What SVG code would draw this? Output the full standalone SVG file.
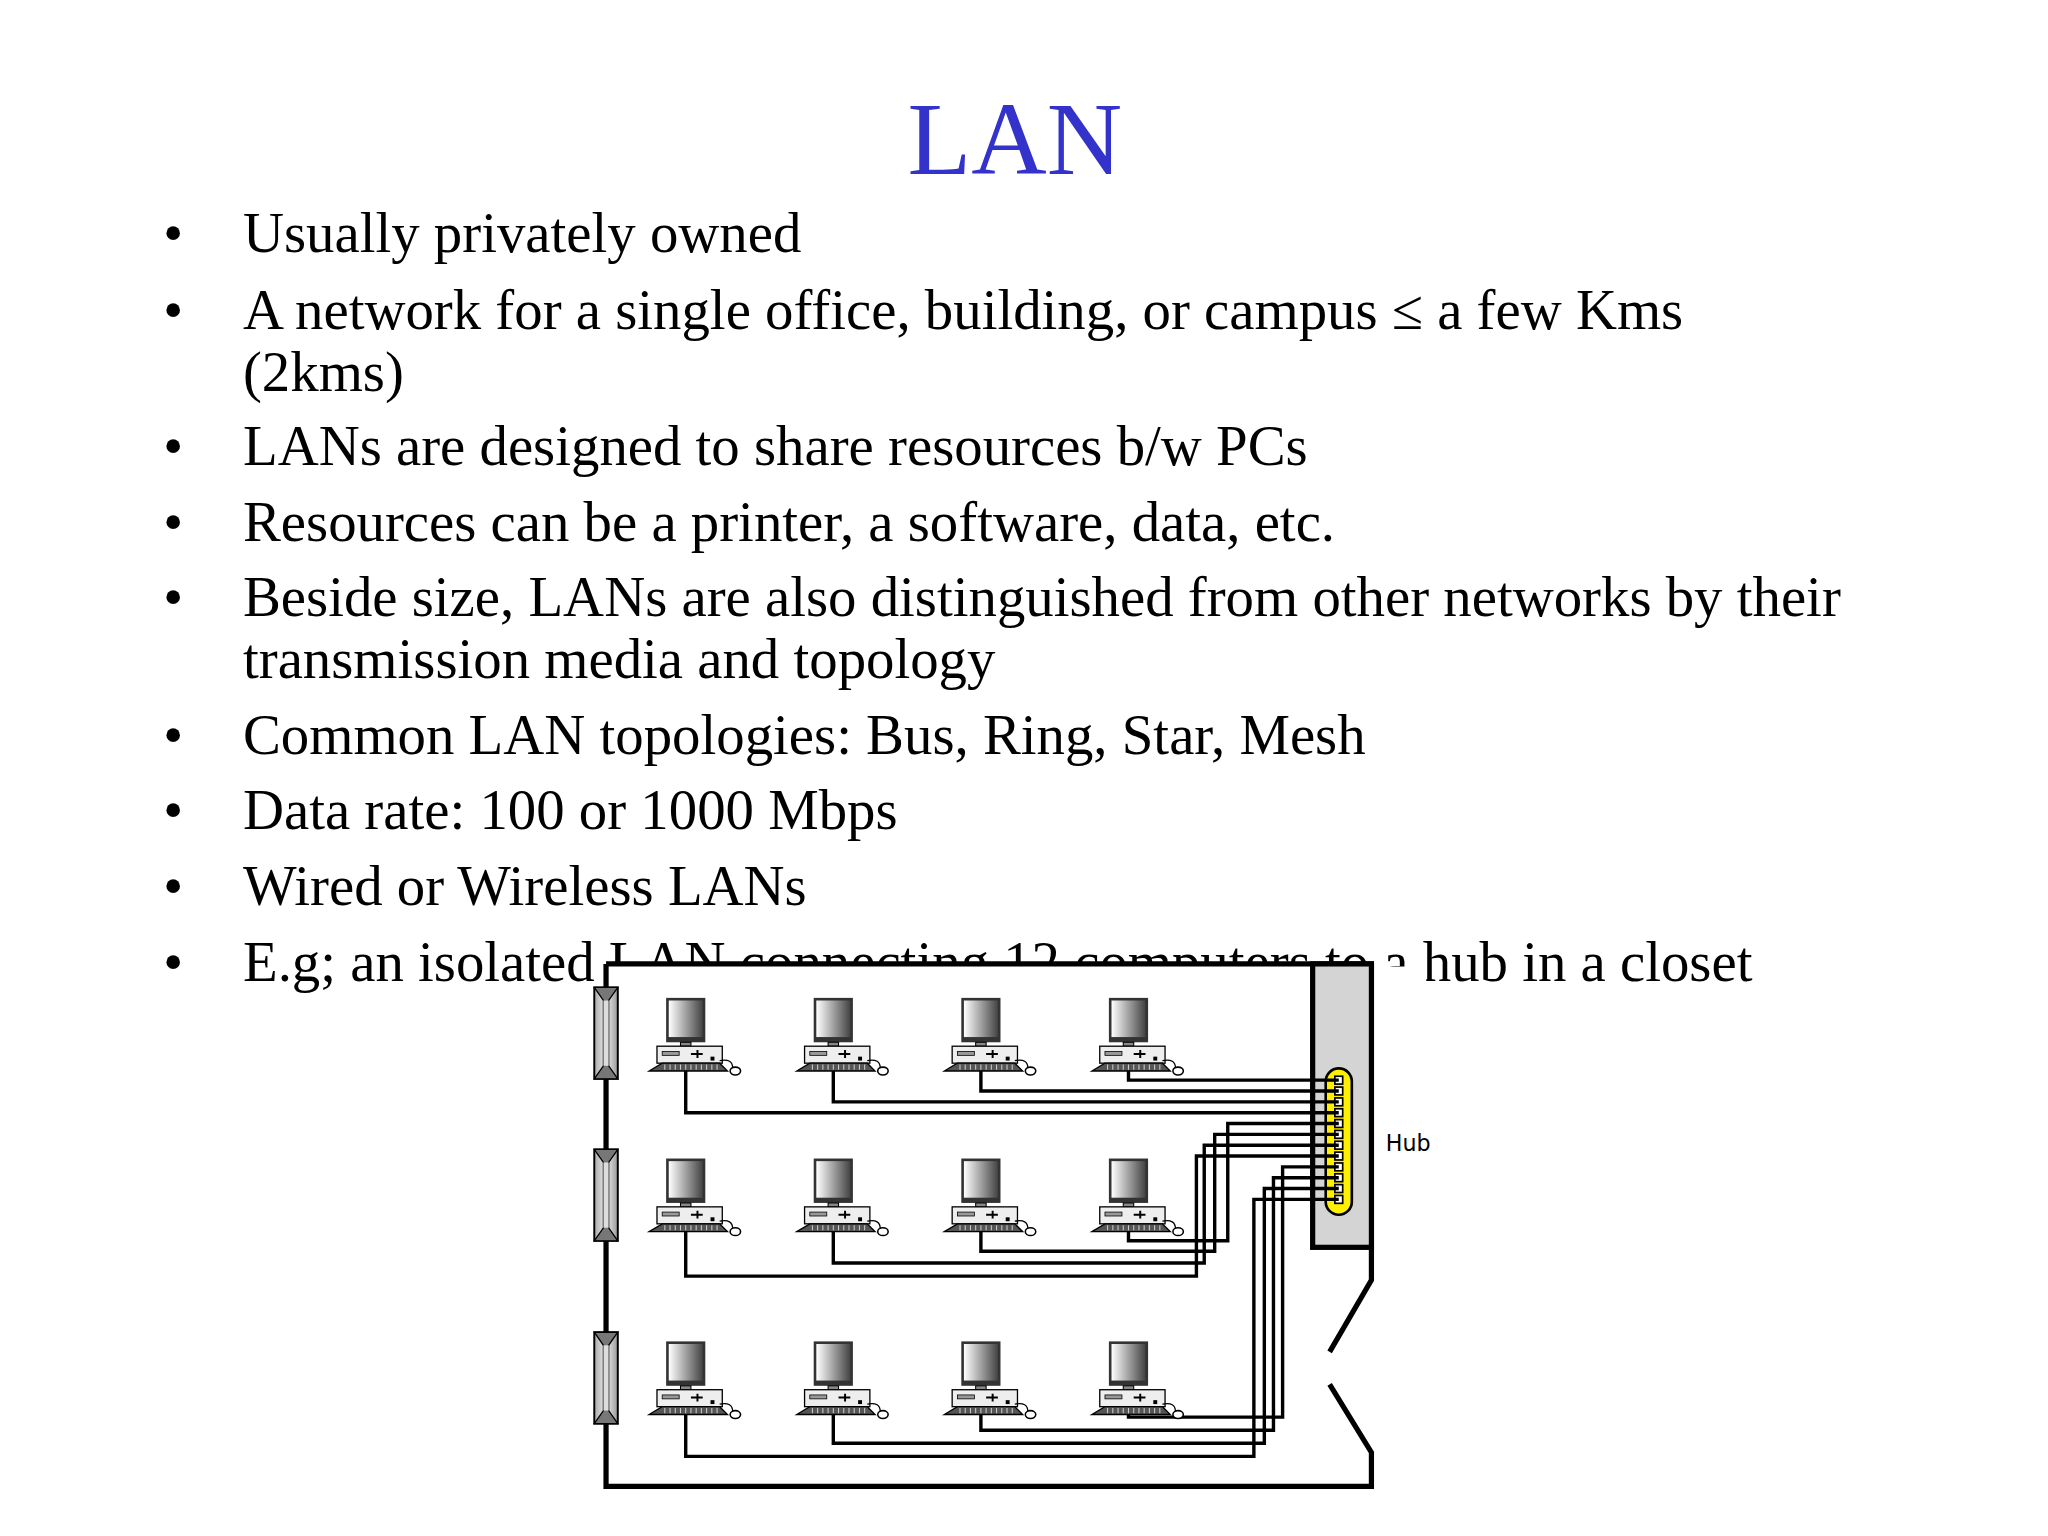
<svg xmlns="http://www.w3.org/2000/svg" width="2048" height="1536" viewBox="0 0 2048 1536">
<style>
.b{font-family:"Liberation Serif","Times New Roman",serif;font-size:43.5px;fill:#000}
.w{fill:none;stroke:#000;stroke-width:2.6}
.f{fill:none;stroke:#000;stroke-width:4}
</style>
<defs>
<linearGradient id="g" x1="0" y1="0" x2="1" y2="0"><stop offset="0" stop-color="#fff"/><stop offset="1" stop-color="#444"/></linearGradient>
<linearGradient id="t" x1="0" y1="0" x2="1" y2="0"><stop offset="0" stop-color="#aaa"/><stop offset=".5" stop-color="#eee"/><stop offset="1" stop-color="#999"/></linearGradient>
<symbol id="pc" overflow="visible">
<rect x="13" y="0" width="30" height="34" fill="#333"/>
<rect x="15" y="2" width="26" height="28" fill="url(#g)"/>
<rect x="24" y="34" width="8" height="3" fill="#888" stroke="#000" stroke-width=".8"/>
<rect x="6" y="37" width="50" height="13" fill="#eee" stroke="#000" stroke-width="1"/>
<rect x="10" y="41" width="13" height="3" fill="#999" stroke="#000" stroke-width=".6"/>
<path d="M32 43h9M37 40v6" stroke="#000" stroke-width="1.5"/>
<rect x="47" y="45" width="3" height="3" fill="#000"/>
<path d="M0 56 L10 50 H54 L60 56 Z" fill="#555" stroke="#000" stroke-width="1"/>
<path d="M12 51v4M16 51v4M20 51v4M24 51v4M28 51v4M32 51v4M36 51v4M40 51v4M44 51v4M48 51v4M52 51v4" stroke="#ccc" stroke-width=".8"/>
<path d="M54 48 q10 -2 10 6" fill="none" stroke="#000" stroke-width="1"/>
<ellipse cx="66" cy="56" rx="4" ry="3" fill="#fff" stroke="#000" stroke-width="1.2"/>
</symbol>
<symbol id="term" overflow="visible">
<rect x="0" y="0" width="18" height="70" fill="url(#t)" stroke="#000" stroke-width="1.5"/>
<path d="M0 0 L18 0 L11 10 L11 60 L18 70 L0 70 L7 60 L7 10 Z" fill="#777" stroke="#000" stroke-width="1"/>
<rect x="7" y="10" width="4" height="50" fill="#ddd"/>
</symbol>
</defs>
<rect width="2048" height="1536" fill="#fff"/>
<g transform="scale(1.30612)">
<g id="text">
<text x="777" y="133" text-anchor="middle" font-family="'Liberation Serif','Times New Roman',serif" font-size="80" fill="#3333cc">LAN</text>
<g class="b">
<text x="125" y="193">•</text><text x="186" y="193">Usually privately owned</text>
<text x="125" y="252">•</text><text x="186" y="252">A network for a single office, building, or campus ≤ a few Kms</text>
<text x="186" y="299">(2kms)</text>
<text x="125" y="356">•</text><text x="186" y="356">LANs are designed to share resources b/w PCs</text>
<text x="125" y="414">•</text><text x="186" y="414">Resources can be a printer, a software, data, etc.</text>
<text x="125" y="472">•</text><text x="186" y="472">Beside size, LANs are also distinguished from other networks by their</text>
<text x="186" y="519">transmission media and topology</text>
<text x="125" y="577">•</text><text x="186" y="577">Common LAN topologies: Bus, Ring, Star, Mesh</text>
<text x="125" y="635">•</text><text x="186" y="635">Data rate: 100 or 1000 Mbps</text>
<text x="125" y="693">•</text><text x="186" y="693">Wired or Wireless LANs</text>
<text x="125" y="751">•</text><text x="186" y="751">E.g; an isolated LAN connecting 12 computers to a hub in a closet</text>
</g>
</g>
<g id="closet">
<rect x="464" y="738" width="586" height="400" fill="#fff"/>
<rect x="1050" y="740" width="42" height="20" fill="#fff"/>
<path class="f" d="M464 738 H1050 V980 L1018 1035 M1018 1060 L1050 1112 V1138 H464 V738"/>
</g>
<g id="hub">
<rect x="1005" y="738" width="45" height="217" fill="#d4d4d4" stroke="#000" stroke-width="4"/>
<rect x="1015" y="818" width="20" height="112" rx="10" fill="#ffef00" stroke="#000" stroke-width="2"/>
<g fill="#fff" stroke="#000" stroke-width="1.3">
<rect x="1022" y="824" width="6" height="6"/><rect x="1022" y="832.3" width="6" height="6"/><rect x="1022" y="840.6" width="6" height="6"/><rect x="1022" y="848.9" width="6" height="6"/><rect x="1022" y="857.2" width="6" height="6"/><rect x="1022" y="865.5" width="6" height="6"/><rect x="1022" y="873.8" width="6" height="6"/><rect x="1022" y="882.1" width="6" height="6"/><rect x="1022" y="890.4" width="6" height="6"/><rect x="1022" y="898.7" width="6" height="6"/><rect x="1022" y="907" width="6" height="6"/><rect x="1022" y="915.3" width="6" height="6"/>
</g>
<text x="1061" y="881" font-family="'DejaVu Sans',sans-serif" font-size="17">Hub</text>
</g>
<g id="connectors" class="w">
<path d="M864 818 V827 H1025 M751 818 V835.3 H1025 M638 818 V843.6 H1025 M525 818 V851.9 H1025"/>
<path d="M1025 860.2 H940 V950 H864 V941 M1025 868.5 H930 V958 H751 V941 M1025 876.8 H922 V967 H638 V941 M1025 885.1 H916 V977 H525 V941"/>
<path d="M1025 893.4 H982 V1085 H864 V1081 M1025 901.7 H975 V1095 H751 V1081 M1025 910 H968 V1105 H638 V1081 M1025 918.3 H960 V1115 H525 V1081"/>
</g>
<g id="repeaters">
<use href="#term" x="455" y="756"/><use href="#term" x="455" y="880"/><use href="#term" x="455" y="1020"/>
</g>
<g id="pcs">
<use href="#pc" x="497" y="764"/><use href="#pc" x="610" y="764"/><use href="#pc" x="723" y="764"/><use href="#pc" x="836" y="764"/>
<use href="#pc" x="497" y="887"/><use href="#pc" x="610" y="887"/><use href="#pc" x="723" y="887"/><use href="#pc" x="836" y="887"/>
<use href="#pc" x="497" y="1027"/><use href="#pc" x="610" y="1027"/><use href="#pc" x="723" y="1027"/><use href="#pc" x="836" y="1027"/>
</g>
</g>
</svg>
